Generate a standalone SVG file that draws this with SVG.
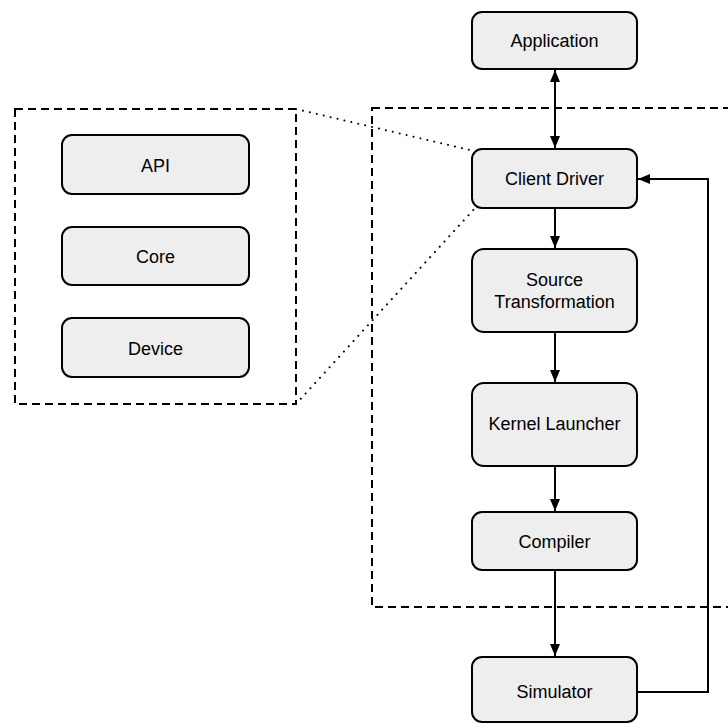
<svg xmlns="http://www.w3.org/2000/svg" width="728" height="725" viewBox="0 0 728 725">
  <style>
    .node rect { fill: #eeeeee; stroke: #000; stroke-width: 2; }
    .node text { font-family: "Liberation Sans", Arial, sans-serif; font-size: 18px; fill: #000; text-anchor: middle; dominant-baseline: central; }
    .frame { fill: none; stroke: #000; stroke-width: 2; stroke-dasharray: 8 5; }
    .zoomline { fill: none; stroke: #000; stroke-width: 2; stroke-dasharray: 0.1 7; stroke-linecap: round; }
    .edge { fill: none; stroke: #000; stroke-width: 2; }
  </style>
  <defs>
    <marker id="arrow" viewBox="0 0 12 10" refX="12" refY="5" markerWidth="12" markerHeight="10" markerUnits="userSpaceOnUse" orient="auto-start-reverse">
      <path d="M0,0 L12,5 L0,10 Z" fill="#000"/>
    </marker>
  </defs>

  <rect width="728" height="725" fill="#fff"/>

  <!-- grouping frames -->
  <g id="frames">
    <rect class="frame" x="372" y="108" width="380" height="499"/>
    <rect class="frame" x="15" y="109" width="281" height="295"/>
  </g>

  <!-- connectors -->
  <g id="connectors">
    <line class="zoomline" x1="296" y1="109" x2="474" y2="151"/>
    <line class="zoomline" x1="296" y1="404" x2="476" y2="207"/>
    <line class="edge" x1="555" y1="70" x2="555" y2="148" marker-start="url(#arrow)" marker-end="url(#arrow)"/>
    <line class="edge" x1="555" y1="209" x2="555" y2="248" marker-end="url(#arrow)"/>
    <line class="edge" x1="555" y1="333" x2="555" y2="382" marker-end="url(#arrow)"/>
    <line class="edge" x1="555" y1="467" x2="555" y2="511" marker-end="url(#arrow)"/>
    <line class="edge" x1="555" y1="571" x2="555" y2="656" marker-end="url(#arrow)"/>
    <polyline class="edge" points="638,692 708,692 708,179 638,179" marker-end="url(#arrow)"/>
  </g>

  <!-- nodes -->
  <g id="application" class="node">
    <rect x="472" y="12" width="165" height="57" rx="10"/>
    <text x="554.5" y="41">Application</text>
  </g>
  <g id="client-driver" class="node">
    <rect x="472" y="149" width="165" height="59" rx="10"/>
    <text x="554.5" y="179">Client Driver</text>
  </g>
  <g id="source-transformation" class="node">
    <rect x="472" y="249" width="165" height="83" rx="12"/>
    <text x="554.5" y="280">Source</text>
    <text x="554.5" y="302">Transformation</text>
  </g>
  <g id="kernel-launcher" class="node">
    <rect x="472" y="383" width="165" height="83" rx="12"/>
    <text x="554.5" y="424">Kernel Launcher</text>
  </g>
  <g id="compiler" class="node">
    <rect x="472" y="512" width="165" height="58" rx="10"/>
    <text x="554.5" y="542">Compiler</text>
  </g>
  <g id="simulator" class="node">
    <rect x="472" y="657" width="165" height="65" rx="10"/>
    <text x="554.5" y="692">Simulator</text>
  </g>
  <g id="api" class="node">
    <rect x="62" y="135" width="187" height="59" rx="10"/>
    <text x="155.5" y="166">API</text>
  </g>
  <g id="core" class="node">
    <rect x="62" y="227" width="187" height="58" rx="10"/>
    <text x="155.5" y="257">Core</text>
  </g>
  <g id="device" class="node">
    <rect x="62" y="318" width="187" height="59" rx="10"/>
    <text x="155.5" y="349">Device</text>
  </g>
</svg>
